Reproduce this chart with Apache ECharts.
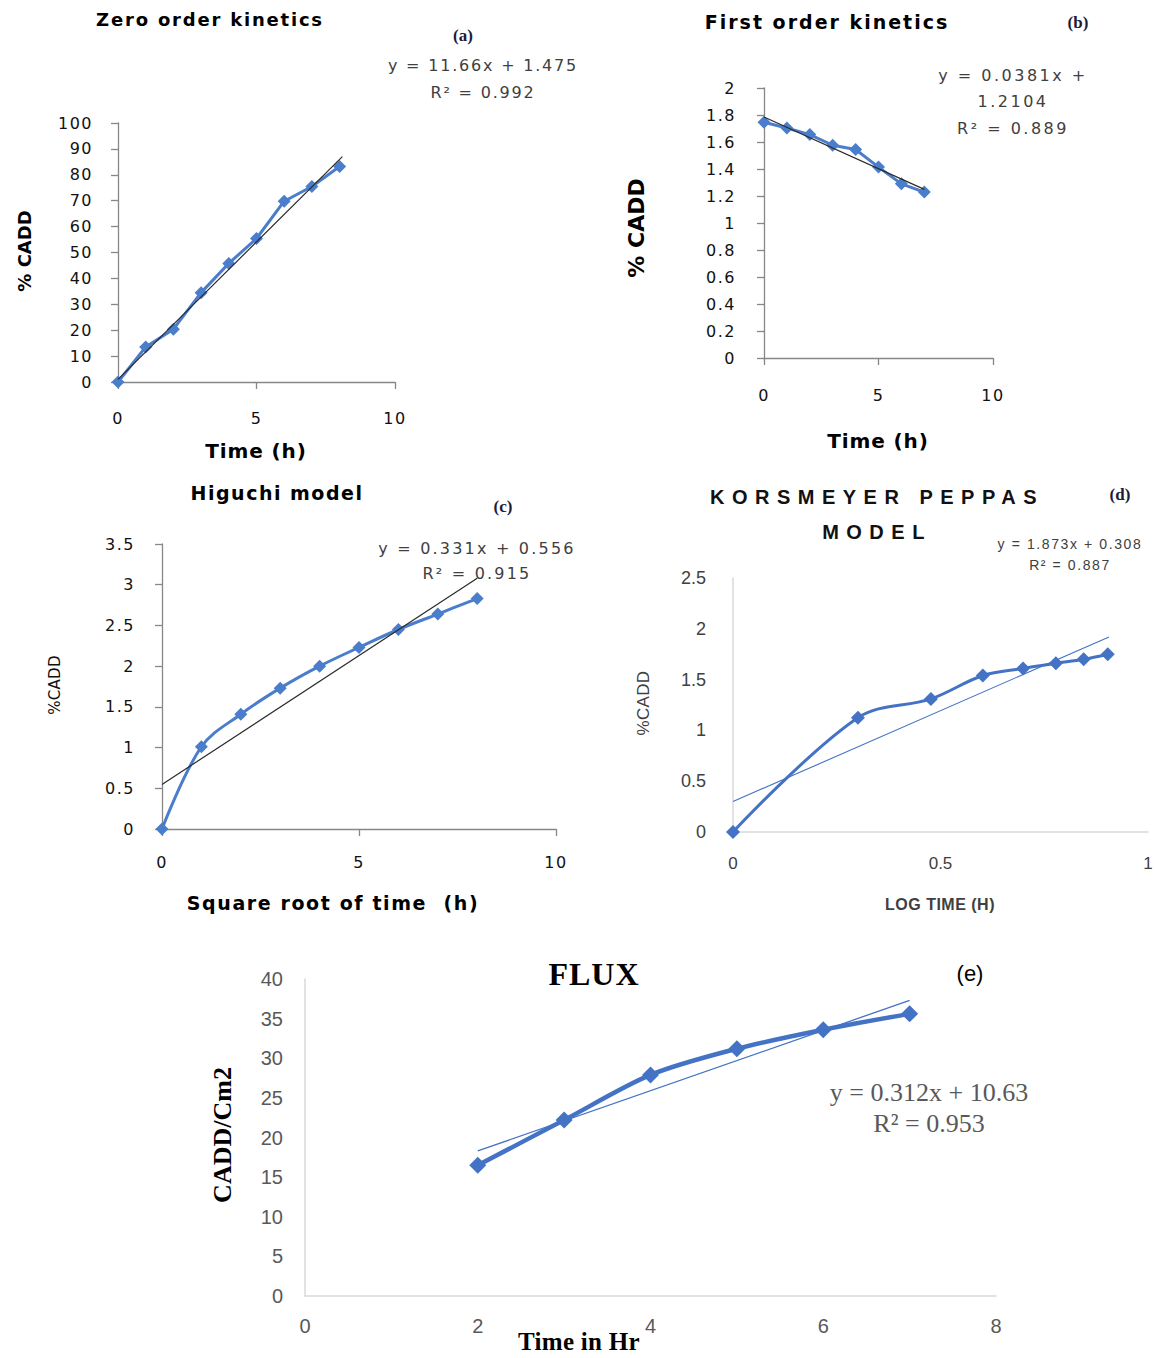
<!DOCTYPE html>
<html>
<head>
<meta charset="utf-8">
<script src="https://cdn.jsdelivr.net/npm/echarts@6/dist/echarts.min.js"></script>
<style>
html,body{margin:0;padding:0;background:#fff;}
#chart{width:1156px;height:1358px;}
</style>
</head>
<body>
<div id="chart"></div>
<script>
// ---------- DATA ----------
// (a) Zero order kinetics
const timeA = [0, 1, 2, 3, 4, 5, 6, 7, 8];
const cumA = [0, 13.5, 20.4, 34.5, 45.8, 55.4, 69.8, 75.5, 83.2];
const trendAx = [0, 8.1];
const trendAy = [1.0, 87];
// (b) First order kinetics
const timeB = [0, 1, 2, 3, 4, 5, 6, 7];
const logB = [1.746, 1.704, 1.655, 1.576, 1.544, 1.414, 1.29, 1.229];
const trendBx = [0, 7];
const trendBy = [1.785, 1.249];
// (c) Higuchi model
const sqrtC = [0, 1, 2, 3, 4, 5, 6, 7, 8];
const valC = [0, 1.01, 1.41, 1.73, 2.0, 2.23, 2.45, 2.64, 2.83];
const trendCx = [0, 8];
const trendCy = [0.547, 3.08];
// (d) Korsmeyer Peppas
const logTimeD = [0, 0.301, 0.477, 0.602, 0.699, 0.778, 0.845, 0.903];
const valD = [0, 1.125, 1.31, 1.54, 1.61, 1.66, 1.70, 1.75];
const trendDx = [0, 0.906];
const trendDy = [0.30, 1.92];
// (e) Flux
const timeE = [2, 3, 4, 5, 6, 7];
const fluxE = [16.5, 22.2, 27.9, 31.2, 33.6, 35.6];
const trendEx = [2, 7];
const trendEy = [18.3, 37.3];

// ---------- HELPERS ----------
const pairs = (xs, ys) => xs.map((x, i) => [x, ys[i]]);
const BLUE = '#4a7dcc';
const BLUE_E = '#4472c4';
const VERD = 'DejaVu Sans';

function oldAxis(idx, min, max, interval, margin) {
  return {
    type: 'value', gridIndex: idx, min, max, interval,
    axisLine: {show: true, lineStyle: {color: '#878787', width: 1.3}},
    axisTick: {show: true, length: 7, lineStyle: {color: '#878787', width: 1.3}},
    splitLine: {show: false},
    axisLabel: {color: '#111', fontFamily: VERD, fontSize: 16, margin}
  };
}
function newAxis(idx, min, max, interval, margin, font, size, color) {
  return {
    type: 'value', gridIndex: idx, min, max, interval,
    axisLine: {show: true, lineStyle: {color: '#d9d9d9', width: 1.5}},
    axisTick: {show: false},
    splitLine: {show: false},
    axisLabel: {color, fontFamily: font, fontSize: size, margin}
  };
}
function txt(x, y, text, font, fill, rot) {
  return {type: 'text', x, y, rotation: rot ? Math.PI / 2 : 0, silent: true,
    style: {text, font, fill, align: 'center', verticalAlign: 'middle'}};
}
function dataSeries(i, d, color, width, size, smooth) {
  return {type: 'line', xAxisIndex: i, yAxisIndex: i, data: d, smooth,
    symbol: 'diamond', symbolSize: size, showSymbol: true,
    lineStyle: {color, width}, itemStyle: {color}, z: 3};
}
function trendSeries(i, d, color, width) {
  return {type: 'line', xAxisIndex: i, yAxisIndex: i, data: d, symbol: 'none',
    lineStyle: {color, width}, z: 4};
}

const chart = echarts.init(document.getElementById('chart'), null, {renderer: 'svg'});
const option = {
  animation: false,
  backgroundColor: '#fff',
  grid: [
    {left: 118, top: 123, width: 277, height: 259},
    {left: 764, top: 88, width: 229, height: 270},
    {left: 162, top: 544, width: 394, height: 285},
    {left: 733, top: 578, width: 415, height: 254},
    {left: 305, top: 979, width: 691, height: 317}
  ],
  xAxis: [
    oldAxis(0, 0, 10, 5, 28),
    oldAxis(1, 0, 10, 5, 29),
    oldAxis(2, 0, 10, 5, 25),
    newAxis(3, 0, 1, 0.5, 23, 'Liberation Sans', 17, '#404040'),
    newAxis(4, 0, 8, 2, 20, 'Liberation Sans Narrow, Liberation Sans', 20, '#595959')
  ],
  yAxis: [
    oldAxis(0, 0, 100, 10, 25),
    oldAxis(1, 0, 2, 0.2, 28),
    oldAxis(2, 0, 3.5, 0.5, 27),
    newAxis(3, 0, 2.5, 0.5, 27, 'Liberation Sans', 18, '#404040'),
    newAxis(4, 0, 40, 5, 22, 'Liberation Sans Narrow, Liberation Sans', 20, '#595959')
  ],
  series: [
    dataSeries(0, pairs(timeA, cumA), BLUE, 3, 13, false),
    trendSeries(0, pairs(trendAx, trendAy), '#2b2b2b', 1.2),
    dataSeries(1, pairs(timeB, logB), BLUE, 3, 13, false),
    trendSeries(1, pairs(trendBx, trendBy), '#2b2b2b', 1.2),
    dataSeries(2, pairs(sqrtC, valC), BLUE, 3, 13, 0.35),
    trendSeries(2, pairs(trendCx, trendCy), '#2b2b2b', 1.2),
    dataSeries(3, pairs(logTimeD, valD), BLUE_E, 3, 14, 0.35),
    trendSeries(3, pairs(trendDx, trendDy), BLUE_E, 1.1),
    dataSeries(4, pairs(timeE, fluxE), BLUE_E, 4.5, 17, 0.3),
    trendSeries(4, pairs(trendEx, trendEy), BLUE_E, 1.3)
  ],
  graphic: [
    // (a)
    txt(210, 19, 'Zero order kinetics', 'bold 18px "DejaVu Sans"', '#000'),
    txt(463, 35, '(a)', 'bold 17px "Liberation Serif"', '#1c1c3a'),
    txt(483, 65, 'y = 11.66x + 1.475', '16px "DejaVu Sans"', '#404040'),
    txt(483, 92, 'R² = 0.992', '16px "DejaVu Sans"', '#404040'),
    txt(24, 251, '% CADD', 'bold 18px "DejaVu Sans"', '#000', true),
    txt(256, 451, 'Time (h)', 'bold 20px "DejaVu Sans"', '#000'),
    // (b)
    txt(827, 22, 'First order kinetics', 'bold 19px "DejaVu Sans"', '#000'),
    txt(1078, 22, '(b)', 'bold 17px "Liberation Serif"', '#1c1c3a'),
    txt(1013, 75, 'y = 0.0381x +', '16px "DejaVu Sans"', '#404040'),
    txt(1013, 101, '1.2104', '16px "DejaVu Sans"', '#404040'),
    txt(1013, 128, 'R² = 0.889', '16px "DejaVu Sans"', '#404040'),
    txt(636, 228, '% CADD', 'bold 22px "DejaVu Sans"', '#000', true),
    txt(878, 441, 'Time (h)', 'bold 20px "DejaVu Sans"', '#000'),
    // (c)
    txt(277, 493, 'Higuchi model', 'bold 19px "DejaVu Sans"', '#000'),
    txt(503, 506, '(c)', 'bold 17px "Liberation Serif"', '#1c1c3a'),
    txt(477, 548, 'y = 0.331x + 0.556', '16px "DejaVu Sans"', '#404040'),
    txt(477, 573, 'R² = 0.915', '16px "DejaVu Sans"', '#404040'),
    txt(55, 685, '%CADD', '15px "DejaVu Sans"', '#111', true),
    txt(333, 903, 'Square root of time  (h)', 'bold 19px "DejaVu Sans"', '#000'),
    // (d)
    txt(877, 497, 'KORSMEYER PEPPAS', 'bold 20px "Liberation Sans"', '#111'),
    txt(877, 532, 'MODEL', 'bold 20px "Liberation Sans"', '#111'),
    txt(1120, 494, '(d)', 'bold 17px "Liberation Serif"', '#1c1c3a'),
    txt(1070, 544, 'y = 1.873x + 0.308', '14px "Liberation Sans"', '#404040'),
    txt(1070, 565, 'R² = 0.887', '14px "Liberation Sans"', '#404040'),
    txt(643, 703, '%CADD', '17px "Liberation Sans"', '#404040', true),
    txt(940, 904, 'LOG TIME (H)', 'bold 16px "Liberation Sans"', '#404040'),
    // (e)
    txt(594, 974, 'FLUX', 'bold 32px "Liberation Serif"', '#000'),
    txt(970, 973, '(e)', '22px "Liberation Sans"', '#000'),
    txt(929, 1092, 'y = 0.312x + 10.63', '26px "Liberation Serif"', '#595959'),
    txt(929, 1123, 'R² = 0.953', '26px "Liberation Serif"', '#595959'),
    txt(222, 1135, 'CADD/Cm2', 'bold 26px "Liberation Serif"', '#000', true),
    txt(579, 1341, 'Time in Hr', 'bold 25px "Liberation Serif"', '#000')
  ]
};
chart.setOption(option);

// letter spacing tweaks (SVG renderer)
const SPACING = {
  'KORSMEYER PEPPAS': '7.5px', 'MODEL': '7.5px', 'FLUX': '1px',
  'Zero order kinetics': '1.8px', 'First order kinetics': '2px',
  'Higuchi model': '1.5px', 'Square root of time  (h)': '1.6px',
  'Time (h)': '0.9px', '% CADD': '0px', '%CADD': '0.3px',
  'y = 11.66x + 1.475': '1.8px', 'R² = 0.992': '1.8px',
  'y = 0.0381x +': '2.5px', '1.2104': '2.5px', 'R² = 0.889': '2.5px',
  'y = 0.331x + 0.556': '2.2px', 'R² = 0.915': '2.2px',
  'y = 1.873x + 0.308': '1.6px', 'R² = 0.887': '1.6px',
  'LOG TIME (H)': '0.5px', 'Time in Hr': '0.3px'
};
function spacing() {
  document.querySelectorAll('#chart text').forEach(t => {
    const s = t.textContent;
    if (SPACING[s] !== undefined) { t.setAttribute('letter-spacing', SPACING[s]); return; }
    if (t.outerHTML.indexOf('DejaVu') >= 0) t.setAttribute('letter-spacing', '1.5px');
  });
}
spacing();
chart.on('finished', spacing);
</script>
</body>
</html>
